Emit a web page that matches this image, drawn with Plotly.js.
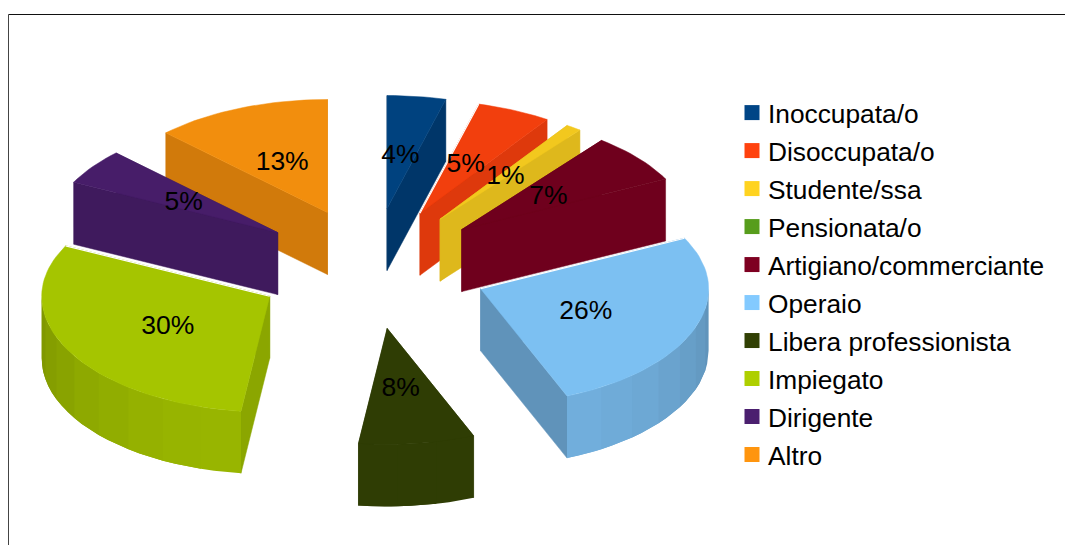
<!DOCTYPE html>
<html><head><meta charset="utf-8">
<script src="https://cdn.plot.ly/plotly-3.0.1.min.js"></script>
<style>html,body{margin:0;padding:0;background:#fff}#c{width:1065px;height:545px}</style>
</head><body><div id="c"></div>
<script>
const categories = ['Inoccupata/o','Disoccupata/o','Studente/ssa','Pensionata/o','Artigiano/commerciante','Operaio','Libera professionista','Impiegato','Dirigente','Altro'];
const values = [4.15,5.27,1.1,0,7.1,26.2,8.2,30.35,5.1,12.55];
const colors = ['#004586','#ff420e','#ffd320','#579d1c','#7e0021','#83caff','#314004','#aecf00','#4b1f6f','#ff950e'];
const topShades = [0.95,0.95,0.95,0.95,0.88,0.95,0.95,0.95,0.95,0.95];
const sideShades = [0.78,0.87,0.87,0.8,0.88,0.73,0.95,0.8,0.84,0.82];
const whiteEdged = ['Disoccupata/o','Operaio','Impiegato'];
const flatShaded = ['Libera professionista'];

// projection of the exploded, tilted pie onto the axes
const cx=372, cy=267, explodeBack=59, explodeFront=62, rx=228, ryBack=113, ryFront=116, depth=62;
const total = values.reduce((a,b)=>a+b,0);
const hex=c=>[1,3,5].map(i=>parseInt(c.substr(i,2),16));
const shade=(c,f)=>'rgb('+hex(c).map(v=>Math.round(v*f)).join(',')+')';

let cum=0;
const slices = categories.map((name,i)=>{
  const a0=cum/total*2*Math.PI; cum+=values[i]; const a1=cum/total*2*Math.PI;
  const mid=(a0+a1)/2, c=Math.cos(mid);
  return {name,i,a0,a1,mid,value:values[i],
    ax:cx+116*Math.sin(mid), ay:cy-(c>0?explodeBack:explodeFront)*c};
});
const rim=(s,a)=>{const c=Math.cos(a);return [s.ax+rx*Math.sin(a), s.ay-(c>0?ryBack:ryFront)*c];};
const poly=(pts,fill,lw)=>({type:'scatter',mode:'lines',x:pts.map(p=>p[0]).concat(pts[0][0]),y:pts.map(p=>p[1]).concat(pts[0][1]),
  fill:'toself',fillcolor:fill,line:{color:fill,width:lw},showlegend:false,hoverinfo:'skip'});

const traces=[];
slices.filter(s=>s.value>0).sort((p,q)=>p.ay-q.ay).forEach(s=>{
  const col=colors[s.i], d=depth, flat=flatShaded.includes(s.name);
  // radial cut faces, the one further back first
  const faces=[s.a0,s.a1].map(a=>rim(s,a)).sort((p,q)=>p[1]-q[1]);
  faces.forEach(r=>traces.push(poly([[s.ax,s.ay],r,[r[0],r[1]+d],[s.ax,s.ay+d]],shade(col,sideShades[s.i]),0.5)));
  // outer wall, front half only, in overlapping strips painted in order
  const w0=Math.max(s.a0,Math.PI/2), w1=Math.min(s.a1,1.5*Math.PI);
  if(w1>w0){
    const n=Math.max(2,Math.ceil((w1-w0)/(Math.PI/16)));
    for(let k=0;k<n;k++){
      const b0=w0+(w1-w0)*k/n,b1=w0+(w1-w0)*(k+1)/n, m=6, pts=[], low=[];
      const end=k===n-1?w1:b1+(w1-w0)/n;
      for(let j=0;j<=m;j++){const p=rim(s,b0+(end-b0)*j/m);pts.push(p);low.unshift([p[0],p[1]+d]);}
      const f=flat?sideShades[s.i]:0.72+0.16*Math.abs(Math.cos((b0+b1)/2));
      traces.push(poly(pts.concat(low),shade(col,f),0));
    }
  }
  // top face
  const n=Math.max(4,Math.ceil((s.a1-s.a0)/(Math.PI/90))), pts=[[s.ax,s.ay]];
  for(let k=0;k<=n;k++) pts.push(rim(s,s.a0+(s.a1-s.a0)*k/n));
  traces.push(poly(pts,shade(col,topShades[s.i]),0.5));
  if(whiteEdged.includes(s.name)){
    const r=faces[0];
    traces.push({type:'scatter',mode:'lines',x:[s.ax,r[0]],y:[s.ay,r[1]],line:{color:'#fff',width:1.2},showlegend:false,hoverinfo:'skip'});
  }
});

// percentage labels at half radius on each top face
const lab=slices.filter(s=>s.value>0);
traces.push({type:'scatter',mode:'text',x:lab.map(s=>rim(s,s.mid)[0]*0.5+s.ax*0.5-1.5),y:lab.map(s=>rim(s,s.mid)[1]*0.5+s.ay*0.5+3.5),
  text:lab.map(s=>Math.round(s.value/total*100)+'%'),textposition:'middle center',
  textfont:{family:'Liberation Sans, Arial, sans-serif',size:26.5,color:'#000'},showlegend:false,hoverinfo:'skip'});

// legend entries
categories.forEach((name,i)=>traces.push({type:'scatter',mode:'markers',x:[null],y:[null],name,legendgroup:name,
  marker:{symbol:'square',size:15,color:colors[i]},showlegend:true,hoverinfo:'skip'}));

const axis={visible:false,fixedrange:true};
Plotly.newPlot('c',traces,{
  width:1065,height:545,margin:{l:0,r:0,t:0,b:0,pad:0},paper_bgcolor:'#fff',plot_bgcolor:'#fff',
  xaxis:{...axis,range:[0,1065]},yaxis:{...axis,range:[545,0]},
  legend:{x:732/1065,y:1-(89/545),xanchor:'left',yanchor:'top',bgcolor:'rgba(0,0,0,0)',tracegroupgap:0.8,itemsizing:'trace',
    font:{family:'Liberation Sans, Arial, sans-serif',size:26.3,color:'#000'}},
  shapes:[
    {type:'line',xref:'x',yref:'y',x0:8.5,x1:1065,y0:14.5,y1:14.5,line:{color:'#111',width:1}},
    {type:'line',xref:'x',yref:'y',x0:8.5,x1:8.5,y0:14.5,y1:545,line:{color:'#444',width:1}}
  ]
},{displayModeBar:false,staticPlot:true}).then(()=>{
  // bring the legend text 4px closer to its swatch
  document.querySelectorAll('#c .legendtext').forEach(t=>t.setAttribute('x',parseFloat(t.getAttribute('x'))-4));
});
</script></body></html>
